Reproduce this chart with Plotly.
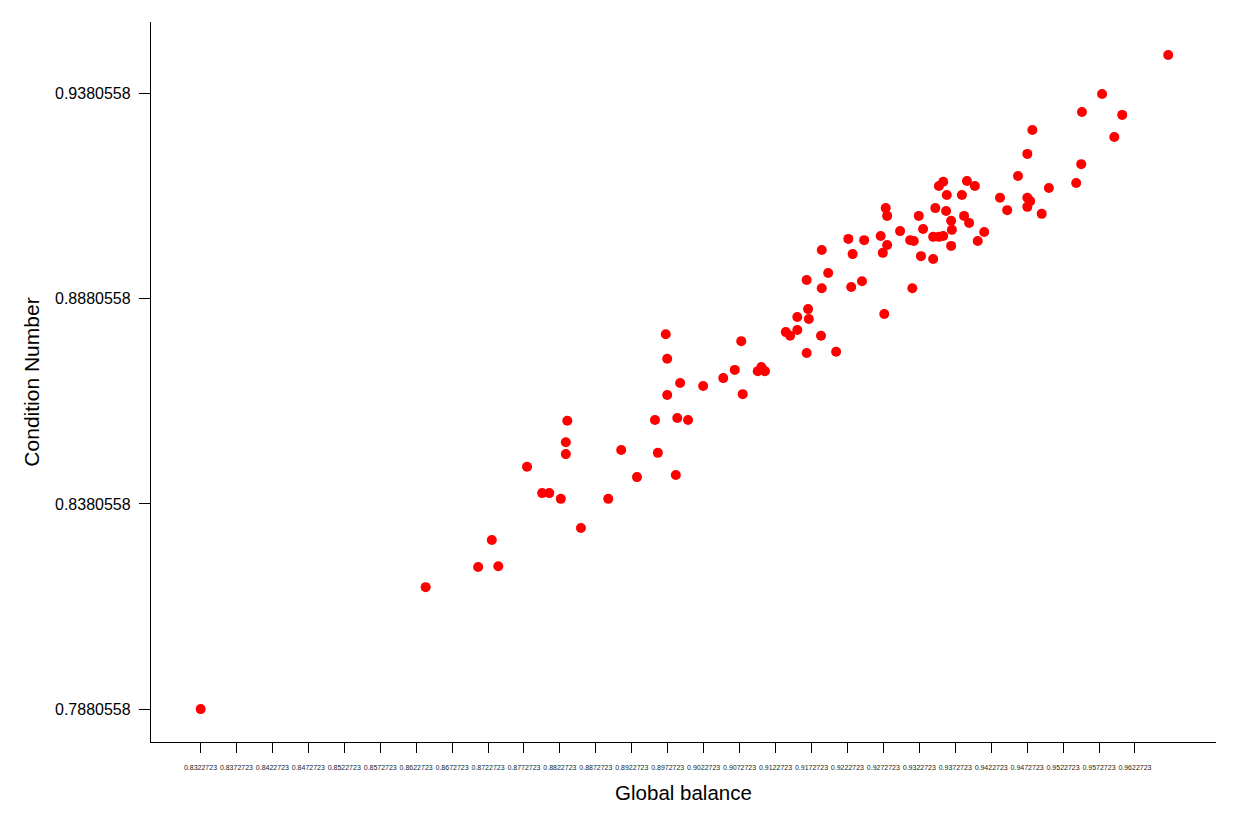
import plotly.graph_objects as go

global_balance = [
    0.8323, 0.8636, 0.8709, 0.8728, 0.8737, 0.8777, 0.8798, 0.8808, 0.8824, 0.8833,
    0.8831, 0.8831, 0.8852, 0.8890, 0.8908, 0.8930, 0.8955, 0.8959, 0.8970, 0.8972,
    0.8972, 0.8984, 0.8986, 0.8990, 0.9001, 0.9022, 0.9050, 0.9066, 0.9075, 0.9077,
    0.9098, 0.9103, 0.9108, 0.9137, 0.9143, 0.9153, 0.9153, 0.9166, 0.9168, 0.9169,
    0.9166, 0.9186, 0.9187, 0.9187, 0.9196, 0.9207, 0.9224, 0.9228, 0.9230, 0.9243,
    0.9246, 0.9269, 0.9272, 0.9274, 0.9276, 0.9278, 0.9278, 0.9296, 0.9310, 0.9313,
    0.9315, 0.9322, 0.9325, 0.9328, 0.9342, 0.9342, 0.9345, 0.9350, 0.9350, 0.9356,
    0.9356, 0.9360, 0.9361, 0.9367, 0.9367, 0.9368, 0.9382, 0.9385, 0.9389, 0.9392,
    0.9400, 0.9404, 0.9413, 0.9435, 0.9445, 0.9460, 0.9473, 0.9473, 0.9473, 0.9477,
    0.9480, 0.9493, 0.9503, 0.9541, 0.9548, 0.9549, 0.9577, 0.9594, 0.9605, 0.9669,
]

condition_number = [
    0.7881, 0.8178, 0.8227, 0.8293, 0.8229, 0.8471, 0.8407, 0.8407, 0.8393, 0.8583,
    0.8531, 0.8502, 0.8322, 0.8393, 0.8512, 0.8446, 0.8585, 0.8505, 0.8794, 0.8734,
    0.8646, 0.8451, 0.8590, 0.8675, 0.8585, 0.8668, 0.8687, 0.8707, 0.8777, 0.8648,
    0.8704, 0.8714, 0.8704, 0.8799, 0.8790, 0.8804, 0.8836, 0.8748, 0.8855, 0.8831,
    0.8926, 0.8790, 0.8906, 0.8999, 0.8943, 0.8751, 0.9026, 0.8909, 0.8989, 0.8923,
    0.9023, 0.9033, 0.8992, 0.8843, 0.9101, 0.9082, 0.9011, 0.9045, 0.9023, 0.8906,
    0.9021, 0.9082, 0.8984, 0.9050, 0.9031, 0.8977, 0.9101, 0.9155, 0.9031, 0.9165,
    0.9033, 0.9094, 0.9133, 0.9070, 0.9009, 0.9048, 0.9133, 0.9082, 0.9167, 0.9065,
    0.9155, 0.9021, 0.9043, 0.9126, 0.9096, 0.9179, 0.9233, 0.9126, 0.9104, 0.9118,
    0.9291, 0.9087, 0.9150, 0.9162, 0.9208, 0.9335, 0.9379, 0.9274, 0.9328, 0.9474,
]

x_tick_values = [round(0.8322723 + 0.005 * k, 7) for k in range(27)]
x_tick_labels = ["%.7f" % v for v in x_tick_values]
y_tick_values = [0.7880558, 0.8380558, 0.8880558, 0.9380558]
y_tick_labels = ["0.7880558", "0.8380558", "0.8880558", "0.9380558"]

fig = go.Figure()
fig.add_trace(go.Scatter(
    x=global_balance, y=condition_number, mode="markers",
    marker=dict(color="#ff0000", size=10, line=dict(width=0)),
    showlegend=False,
))

font_family = "Liberation Sans, Arial, sans-serif"
fig.update_layout(
    width=1240, height=826,
    paper_bgcolor="white", plot_bgcolor="white",
    margin=dict(l=151, r=24, t=22, b=84),
    font=dict(family=font_family, color="black"),
    xaxis=dict(
        range=[0.825386, 0.973549],
        tickmode="array", tickvals=x_tick_values, ticktext=x_tick_labels,
        ticks="outside", ticklen=10, tickwidth=1, tickcolor="black",
        tickfont=dict(size=7, color="#222222"),
        ticklabelstandoff=8,
        showline=True, linecolor="black", linewidth=1.3,
        showgrid=False, zeroline=False,
        title=dict(text="Global balance", font=dict(size=20.5, color="black"), standoff=16),
    ),
    yaxis=dict(
        range=[0.780093, 0.955416],
        tickmode="array", tickvals=y_tick_values, ticktext=y_tick_labels,
        ticks="outside", ticklen=11, tickwidth=1, tickcolor="black",
        tickfont=dict(size=16, color="black"),
        ticklabelstandoff=5,
        showline=True, linecolor="black", linewidth=1.3,
        showgrid=False, zeroline=False,
        title=dict(text="Condition Number", font=dict(size=21, color="black"), standoff=9),
    ),
)

fig.write_html("out.html", config={"displayModeBar": False},
               post_script="document.body.style.margin='0';")
